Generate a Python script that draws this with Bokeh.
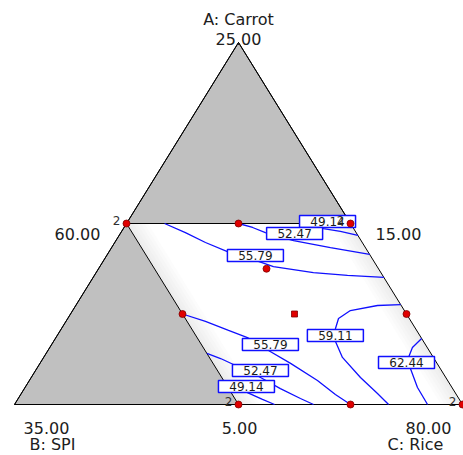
from bokeh.plotting import figure
from bokeh.models import Range1d, ColumnDataSource
from bokeh.core.properties import value
from bokeh.embed import file_html
from bokeh.resources import INLINE

# ---------------- data (actual component %, A + B + C = 100) ----------------
A_MIN, A_MAX = 5.0, 25.0     # A: Carrot
B_MIN, B_MAX = 15.0, 35.0    # B: SPI
C_MIN, C_MAX = 60.0, 80.0    # C: Rice
A_LIMIT = 15.0               # upper constraint on A
B_LIMIT = 25.0               # upper constraint on B

axis_titles = ["A: Carrot", "B: SPI", "C: Rice"]
tick_labels = ["25.00", "60.00", "15.00", "5.00", "80.00", "35.00"]

# design points (A, C)
design_A = [15, 15, 15, 12.5, 10, 10, 5, 5, 5]
design_C = [60, 65, 70, 67.5, 65, 75, 70, 75, 80]
center_A = [10]
center_C = [70]
replicate_A = [15, 15, 5, 5]
replicate_C = [60, 70, 70, 80]
replicate_n = ["2", "2", "2", "2"]

# contour lines (A, C)
c4914u_A = [15.0, 14.72, 14.56, 14.34]
c4914u_C = [67.90, 68.93, 69.77, 70.66]
c5247u_A = [15.0, 14.78, 14.50, 14.28, 14.06, 13.67, 13.29]
c5247u_C = [65.0, 65.74, 66.45, 67.19, 67.93, 69.77, 71.71]
c5579u_A = [15.0, 14.50, 13.95, 13.45, 12.96, 12.62, 12.29, 12.13, 12.02]
c5579u_C = [61.70, 62.88, 64.05, 65.28, 66.78, 67.75, 69.70, 71.30, 72.98]
c5579l_A = [10.0, 9.59, 9.09, 8.70, 7.98, 7.27, 6.33, 5.55, 5.0]
c5579l_C = [65.0, 66.23, 67.51, 68.55, 69.85, 71.19, 72.86, 74.05, 75.0]
c5247l_A = [7.82, 7.54, 7.21, 6.88, 6.49, 5.88, 5.33, 5.0]
c5247l_C = [67.18, 67.93, 68.67, 69.46, 70.24, 71.43, 72.60, 73.35]
c4914l_A = [6.22, 5.66, 5.28, 5.0]
c4914l_C = [68.78, 70.07, 70.93, 71.61]
c5911_A = [10.52, 10.47, 10.19, 9.75, 9.20, 8.81, 8.48, 7.60, 6.49, 5.61, 5.0]
c5911_C = [74.48, 73.47, 72.40, 72.09, 72.23, 72.38, 72.59, 73.34, 74.70, 75.90, 76.70]
c6244_A = [8.65, 8.15, 7.60, 7.32, 6.99, 5.94, 5.0]
c6244_C = [76.35, 76.19, 76.29, 76.43, 76.68, 77.52, 78.44]

# contour labels
label_text = ["49.14", "52.47", "55.79", "59.11", "55.79", "52.47", "49.14", "62.44"]
label_A = [15.11, 14.45, 13.23, 8.81, 8.31, 6.88, 5.99, 7.32]
label_C = [68.92, 67.78, 66.64, 72.42, 69.77, 70.04, 69.86, 76.34]

SPAN = A_MAX - A_MIN


def tern(A_list, C_list):
    xs, ys = [], []
    for A, C in zip(A_list, C_list):
        a = (A - A_MIN) / SPAN
        c = (C - C_MIN) / SPAN
        xs.append(c + a / 2.0)
        ys.append(a)
    return xs, ys


# ---------------- figure ----------------
PX_X, PX_Y = 448.0, 362.0  # pixels per unit
p = figure(width=463, height=455, output_backend="svg", toolbar_location=None,
           x_range=Range1d(-14 / PX_X, 449 / PX_X),
           y_range=Range1d(-51 / PX_Y, 404 / PX_Y),
           x_axis_location=None, y_axis_location=None,
           min_border=0, background_fill_color="white",
           border_fill_color="white", outline_line_color=None)
p.grid.visible = False

# regions
top_A = [A_MAX, A_LIMIT, A_LIMIT]
top_C = [C_MIN, C_MIN, 100 - A_LIMIT - B_MIN]
low_A = [A_MIN, A_LIMIT, A_MIN]
low_C = [C_MIN, C_MIN, 100 - A_MIN - B_LIMIT]
reg_A = [A_LIMIT, A_LIMIT, A_MIN, A_MIN]
reg_C = [C_MIN, 100 - A_LIMIT - B_MIN, C_MAX, 100 - A_MIN - B_LIMIT]

x, y = tern(reg_A, reg_C)
p.patch(x, y, fill_color="white", line_color=None)

# soft shading along the slanted edges of the feasible region
for k in range(1, 7):
    d = 0.16 * k
    x, y = tern([A_LIMIT, A_MIN, A_MIN, A_LIMIT],
                [C_MIN, 100 - A_MIN - B_LIMIT, 100 - A_MIN - B_LIMIT + d, C_MIN + d])
    p.patch(x, y, fill_color="#B8B8B8", fill_alpha=0.045, line_color=None)
    x, y = tern([A_LIMIT, A_MIN, A_MIN, A_LIMIT],
                [100 - A_LIMIT - B_MIN, C_MAX, C_MAX - d, 100 - A_LIMIT - B_MIN - d])
    p.patch(x, y, fill_color="#B8B8B8", fill_alpha=0.045, line_color=None)

x, y = tern(top_A, top_C)
p.patch(x, y, fill_color="#C0C0C0", line_color="black", line_width=1)
x, y = tern(low_A, low_C)
p.patch(x, y, fill_color="#C0C0C0", line_color="black", line_width=1)
x, y = tern([A_MAX, A_MIN, A_MIN, A_MAX], [C_MIN, C_MIN, C_MAX, C_MIN])
p.line(x, y, line_color="black", line_width=1)

# contours
for ca, cc in [(c4914u_A, c4914u_C), (c5247u_A, c5247u_C), (c5579u_A, c5579u_C),
               (c5579l_A, c5579l_C), (c5247l_A, c5247l_C), (c4914l_A, c4914l_C),
               (c5911_A, c5911_C), (c6244_A, c6244_C)]:
    x, y = tern(ca, cc)
    p.line(x, y, line_color="#1010FF", line_width=1.3)

# contour labels
lx, ly = tern(label_A, label_C)
lsrc = ColumnDataSource(dict(x=lx, y=ly, t=label_text))
p.rect("x", "y", width=56, height=12, width_units="screen", height_units="screen",
       source=lsrc, fill_color="white", line_color="#1010FF", line_width=1.5)
p.text("x", "y", text="t", source=lsrc, text_align="center", text_baseline="middle",
       text_font=value("DejaVu Sans"), text_font_size="12px",
       text_color="#1a1a1a")

# design points
x, y = tern(design_A, design_C)
p.scatter(x, y, marker="circle", size=7, fill_color="#E00000", line_color="#800000",
          line_width=0.8)
x, y = tern(center_A, center_C)
p.scatter(x, y, marker="square", size=6, fill_color="#E00000", line_color="#800000",
          line_width=0.8)
x, y = tern(replicate_A, replicate_C)
p.text(x, y, text=replicate_n, text_align="right", text_baseline="bottom",
       x_offset=-6, y_offset=1, text_font=value("DejaVu Sans"), text_font_size="12px",
       text_color="#303030")

# vertex / tick labels
tick_A = [A_MAX, A_LIMIT, A_LIMIT, A_MIN, A_MIN, A_MIN]
tick_C = [C_MIN, C_MIN, 100 - A_LIMIT - B_MIN, 100 - A_MIN - B_LIMIT, C_MAX, C_MIN]
tick_dx = [0, -49, 48, 1, -34, 32]
tick_dy = [-3.5, 10, 10, 23, 23, 23]
x, y = tern(tick_A, tick_C)
p.text(x, y, text=tick_labels, x_offset=tick_dx, y_offset=tick_dy,
       text_align="center", text_baseline="middle", text_font=value("DejaVu Sans"),
       text_font_size="16px", text_color="#202020")

title_A = [A_MAX, A_MIN, A_MIN]
title_C = [C_MIN, C_MIN, C_MAX]
title_dx = [0, 38, -47]
title_dy = [-23, 40, 40]
x, y = tern(title_A, title_C)
p.text(x, y, text=axis_titles, x_offset=title_dx, y_offset=title_dy,
       text_align="center", text_baseline="middle", text_font=value("DejaVu Sans"),
       text_font_size="16px", text_color="#202020")

open("out.html", "w").write(file_html(p, INLINE))
